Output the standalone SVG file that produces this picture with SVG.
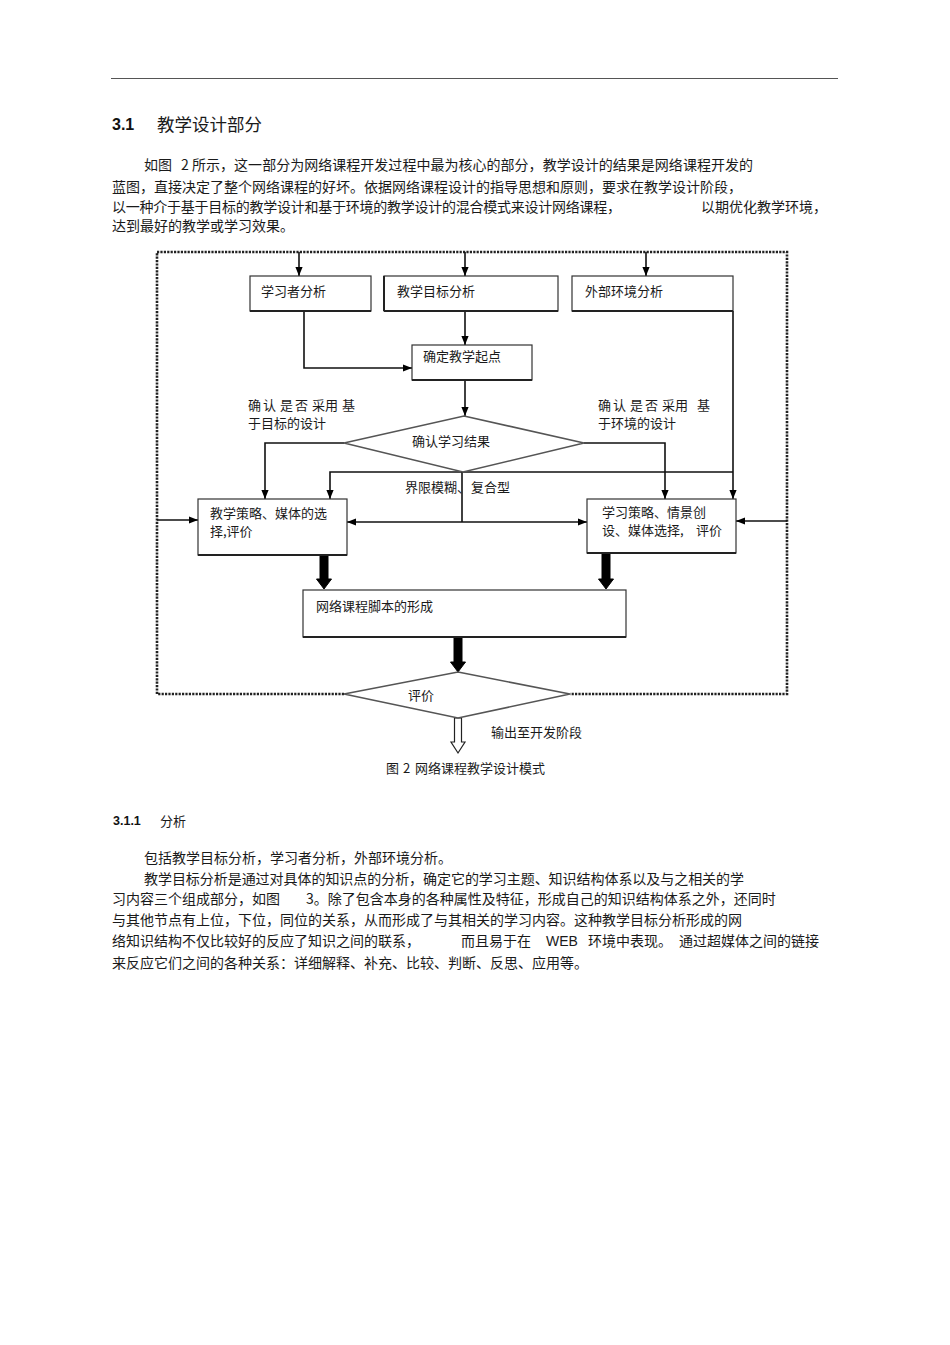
<svg xmlns="http://www.w3.org/2000/svg" width="950" height="1345" viewBox="0 0 950 1345">
<style>
.t{font-family:"Noto Sans CJK SC","Noto Sans",sans-serif;font-size:13px;fill:#1a1a1a}
.p{font-family:"Noto Sans CJK SC","Noto Sans",sans-serif;font-size:14px;fill:#1a1a1a}
.h{font-family:"Noto Sans CJK SC","Noto Sans",sans-serif;font-size:17.5px;fill:#1a1a1a}
.b{font-family:"Liberation Sans",Arial,sans-serif;font-weight:bold;fill:#111}
.l{font-family:"Liberation Sans",Arial,sans-serif;font-size:14px;fill:#1a1a1a}
.box{fill:#fff;stroke:#333;stroke-width:1.2}
.sh{stroke:#222;stroke-width:2;fill:none}
.ln{fill:none;stroke:#111;stroke-width:1.6}
.dia{fill:#fff;stroke:#555;stroke-width:1.6}
.dot{fill:none;stroke:#222;stroke-width:2.6;stroke-dasharray:2.2 1.2}
.thick{fill:#000;stroke:#000;stroke-width:1}
.hollow{fill:#fff;stroke:#222;stroke-width:1.2}
</style>
<defs>
<marker id="ah" viewBox="0 0 10 10" markerUnits="userSpaceOnUse" markerWidth="10" markerHeight="9" refX="10" refY="5" orient="auto">
<path d="M0,1 L10,5 L0,9 z" fill="#000"/>
</marker>
</defs>
<rect width="950" height="1345" fill="#fff"/>

<!-- page text -->
<line x1="111" y1="78.5" x2="838" y2="78.5" stroke="#555" stroke-width="1.2"/>
<text class="b" x="112" y="130" font-size="16">3.1</text>
<text class="h" x="157" y="130.5">教学设计部分</text>

<text class="p" y="170"><tspan x="144">如图</tspan><tspan x="181">2</tspan><tspan x="192" textLength="561" lengthAdjust="spacing">所示，这一部分为网络课程开发过程中最为核心的部分，教学设计的结果是网络课程开发的</tspan></text>
<text class="p" x="112" y="192">蓝图，直接决定了整个网络课程的好坏。依据网络课程设计的指导思想和原则，要求在教学设计阶段，</text>
<text class="p" x="112" y="212" textLength="509" lengthAdjust="spacing">以一种介于基于目标的教学设计和基于环境的教学设计的混合模式来设计网络课程，</text>
<text class="p" x="701" y="212">以期优化教学环境，</text>
<text class="p" x="112" y="231">达到最好的教学或学习效果。</text>

<!-- connectors -->
<g id="connectors">
<path class="dot" d="M344,694 H157 V252 H787 V694 H570"/>
<path class="ln" d="M299,252 V276" marker-end="url(#ah)"/>
<path class="ln" d="M465,252 V276" marker-end="url(#ah)"/>
<path class="ln" d="M646,252 V276" marker-end="url(#ah)"/>
<path class="ln" d="M304,311 V368 H412" marker-end="url(#ah)"/>
<path class="ln" d="M465,311 V345" marker-end="url(#ah)"/>
<path class="ln" d="M465,380 V416" marker-end="url(#ah)"/>
<path class="ln" d="M344,443 H265 V499" marker-end="url(#ah)"/>
<path class="ln" d="M584,443 H665 V499" marker-end="url(#ah)"/>
<path class="ln" d="M733,311 V499" marker-end="url(#ah)"/>
<path class="ln" d="M733,472 H330 V499" marker-end="url(#ah)"/>
<path class="ln" d="M462,472 V522"/>
<path class="ln" d="M462,522 H347" marker-end="url(#ah)"/>
<path class="ln" d="M462,522 H587" marker-end="url(#ah)"/>
<path class="ln" d="M157,520 H198" marker-end="url(#ah)"/>
<path class="ln" d="M787,521 H736" marker-end="url(#ah)"/>
<polygon class="thick" points="320,555 328,555 328,579 331.5,579 324,589 316.5,579 320,579"/>
<polygon class="thick" points="602,553 610,553 610,579 613.5,579 606,589 598.5,579 602,579"/>
<polygon class="thick" points="454,637 462,637 462,662 465.5,662 458,672 450.5,662 454,662"/>
<polygon class="hollow" points="454.5,718 461.5,718 461.5,742 465,742 458,753 451,742 454.5,742"/>
</g>

<!-- nodes -->
<g id="n-learner">
<rect class="box" x="250" y="276" width="121" height="35"/>
<line class="sh" x1="250" y1="311" x2="371" y2="311"/>
<text class="t" x="261" y="295.5">学习者分析</text>
</g>
<g id="n-goal">
<rect class="box" x="384" y="276" width="174" height="35"/>
<line class="sh" x1="384" y1="311" x2="558" y2="311"/>
<line class="sh" x1="384" y1="276" x2="384" y2="311"/>
<text class="t" x="397" y="295.5">教学目标分析</text>
</g>
<g id="n-env">
<rect class="box" x="572" y="276" width="161" height="35"/>
<line class="sh" x1="572" y1="311" x2="733" y2="311"/>
<text class="t" x="585" y="295.5">外部环境分析</text>
</g>
<g id="n-start">
<rect class="box" x="412" y="345" width="120" height="35"/>
<line class="sh" x1="412" y1="380" x2="532" y2="380"/>
<text class="t" x="423" y="361">确定教学起点</text>
</g>
<g id="n-result">
<polygon class="dia" points="464,416 584,443 463,472 344,443"/>
<text class="t" x="412" y="446">确认学习结果</text>
</g>
<g id="n-teach">
<rect class="box" x="198" y="499" width="149" height="56"/>
<line class="sh" x1="198" y1="555" x2="347" y2="555"/>
<text class="t" x="210" y="518">教学策略、媒体的选</text>
<text class="t" x="210" y="536">择,评价</text>
</g>
<g id="n-learn">
<rect class="box" x="587" y="499" width="149" height="54"/>
<line class="sh" x1="587" y1="553" x2="736" y2="553"/>
<text class="t" x="602" y="517">学习策略、情景创</text>
<text class="t" x="602" y="535">设、媒体选择,<tspan x="696">评价</tspan></text>
</g>
<g id="n-script">
<rect class="box" x="303" y="590" width="323" height="47"/>
<line class="sh" x1="303" y1="637" x2="626" y2="637"/>
<text class="t" x="316" y="611">网络课程脚本的形成</text>
</g>
<g id="n-eval">
<polygon class="dia" points="458,672 570,694 458,718 344,694"/>
<text class="t" x="408" y="700">评价</text>
</g>

<!-- connector labels -->
<g id="labels">
<text class="t" y="410"><tspan x="248">确</tspan><tspan x="263">认</tspan><tspan x="280">是</tspan><tspan x="295">否</tspan><tspan x="312">采用</tspan><tspan x="342">基</tspan></text>
<text class="t" x="248" y="428">于目标的设计</text>
<text class="t" y="410"><tspan x="598">确</tspan><tspan x="613">认</tspan><tspan x="630">是</tspan><tspan x="645">否</tspan><tspan x="662">采用</tspan><tspan x="697">基</tspan></text>
<text class="t" x="598" y="428">于环境的设计</text>
<text class="t" x="405" y="492">界限模糊、<tspan x="471">复合型</tspan></text>
<text class="t" x="491" y="737">输出至开发阶段</text>
</g>

<text class="t" y="773"><tspan x="386">图</tspan><tspan x="403">2</tspan><tspan x="415">网络课程教学设计模式</tspan></text>

<!-- section 3.1.1 -->
<text class="b" x="113" y="825" font-size="12.5">3.1.1</text>
<text class="t" x="160" y="825.5">分析</text>
<text class="p" x="144" y="863">包括教学目标分析，学习者分析，外部环境分析。</text>
<text class="p" x="144" y="884" textLength="600" lengthAdjust="spacing">教学目标分析是通过对具体的知识点的分析，确定它的学习主题、知识结构体系以及与之相关的学</text>
<text class="p" x="112" y="904">习内容三个组成部分，如图</text>
<text class="p" x="306" y="904">3。除了包含本身的各种属性及特征，形成自己的知识结构体系之外，还同时</text>
<text class="p" x="112" y="925">与其他节点有上位，下位，同位的关系，从而形成了与其相关的学习内容。这种教学目标分析形成的网</text>
<text class="p" x="112" y="946">络知识结构不仅比较好的反应了知识之间的联系，</text>
<text class="p" x="461" y="946">而且易于在</text>
<text class="l" x="546" y="946">WEB</text>
<text class="p" x="588" y="946">环境中表现。</text>
<text class="p" x="679" y="946">通过超媒体之间的链接</text>
<text class="p" x="112" y="968">来反应它们之间的各种关系：详细解释、补充、比较、判断、反思、应用等。</text>
</svg>
